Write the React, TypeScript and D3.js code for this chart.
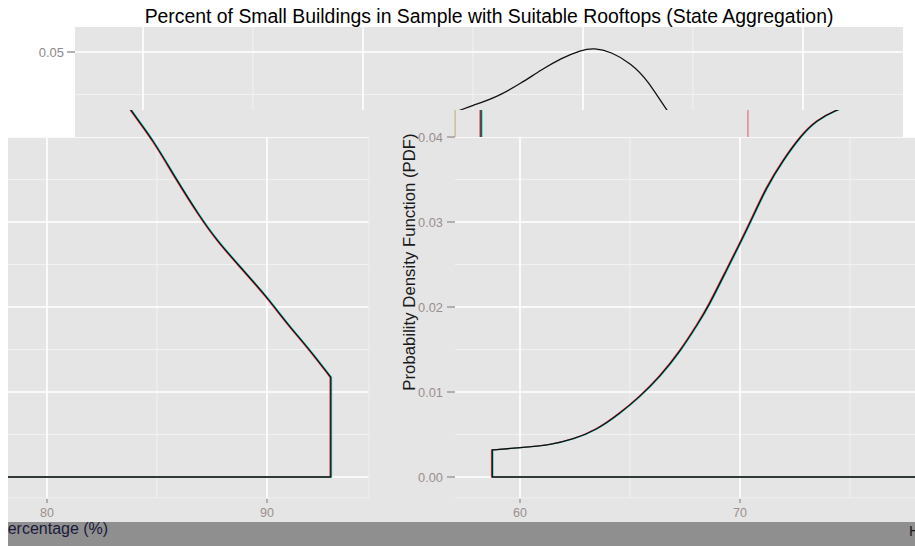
import React from 'react';
import * as d3 from 'd3';

const titleText = 'Percent of Small Buildings in Sample with Suitable Rooftops (State Aggregation)';
const yTitle = 'Probability Density Function (PDF)';
const xTitle = 'Percentage (%)';

// density estimate
const pct = [58.74, 60.0, 61.36, 62.42, 63.49, 64.55, 65.45, 66.36, 67.27, 68.1, 68.56, 69.39, 70.0, 70.45, 71.21, 71.97, 72.73, 73.49, 74.4, 75.06, 76.12, 77.18, 78.09, 79.0, 79.91, 80.51, 81.27, 82.18, 82.94, 83.8, 84.83, 85.89, 86.95, 87.71, 88.77, 89.99, 90.9, 91.95, 92.9];
const density = [0.00318, 0.00345, 0.00376, 0.00443, 0.00553, 0.00749, 0.00945, 0.0118, 0.01474, 0.01808, 0.02004, 0.02435, 0.02749, 0.02985, 0.03415, 0.0373, 0.04004, 0.042, 0.0432, 0.04376, 0.04474, 0.04632, 0.04788, 0.04925, 0.05024, 0.05048, 0.05004, 0.04867, 0.04671, 0.0431, 0.03965, 0.03494, 0.03062, 0.02788, 0.02474, 0.02121, 0.01808, 0.01494, 0.01173];

const yMajor = [0, 0.01, 0.02, 0.03, 0.04, 0.05];
const yMinor = [0.005, 0.015, 0.025, 0.035, 0.045];
const xMajor = [50, 60, 70, 80, 90, 100];
const xMinor = [55, 65, 75, 85, 95];
const topYLabels = [0.05];
const rightYLabels = [0, 0.01, 0.02, 0.03, 0.04];
const leftXLabels = [80, 90];
const rightXLabels = [60, 70];
const stripMarks = [57.05, 58.23, 70.36];

const W = 915, H = 546;
const BG = '#e5e5e5';
const FONT = 'Liberation Sans, Arial, sans-serif';

const y = d3.scaleLinear().domain([0, 0.05]).range([477, 52]);
const xTop = d3.scaleLinear().domain([60, 90]).range([143, 803]);
const xLeft = d3.scaleLinear().domain([80, 90]).range([47, 267]);
const xRight = d3.scaleLinear().domain([60, 70]).range([520, 740]);

const pts: [number, number][] = pct.map((p, i) => [p, density[i]]);

function densityPath(x: d3.ScaleLinear<number, number>) {
  const line = d3.line<[number, number]>().x(d => x(d[0])).y(d => y(d[1])).curve(d3.curveBasis);
  const body = line(pts) || '';
  const x0 = x(pct[0]);
  const xn = x(pct[pct.length - 1]);
  return `M${x0},${y(0)}` + body.replace(/^M/, 'L') + `L${xn},${y(0)}Z`;
}

type Rect = { x: number; y: number; w: number; h: number };

function Grid({ x, r }: { x: d3.ScaleLinear<number, number>; r: Rect }) {
  return (
    <g>
      {yMinor.map(v => (
        <line key={'ym' + v} x1={r.x} x2={r.x + r.w} y1={y(v)} y2={y(v)} stroke="#f2f2f2" strokeWidth={1} />
      ))}
      {xMinor.map(v => (
        <line key={'xm' + v} x1={x(v)} x2={x(v)} y1={r.y} y2={r.y + r.h} stroke="#f2f2f2" strokeWidth={1} />
      ))}
      {yMajor.map(v => (
        <line key={'yM' + v} x1={r.x} x2={r.x + r.w} y1={y(v)} y2={y(v)} stroke="#ffffff" strokeWidth={1.6} />
      ))}
      {xMajor.map(v => (
        <line key={'xM' + v} x1={x(v)} x2={x(v)} y1={r.y} y2={r.y + r.h} stroke="#ffffff" strokeWidth={1.6} />
      ))}
    </g>
  );
}

function Curve({ x, fringe }: { x: d3.ScaleLinear<number, number>; fringe: boolean }) {
  const d = densityPath(x);
  return (
    <g fill="none">
      {fringe && <path d={d} stroke="#e02828" strokeWidth={1.2} transform="translate(-0.8,0)" opacity={0.85} />}
      {fringe && <path d={d} stroke="#20d8d8" strokeWidth={1.2} transform="translate(0.8,0)" opacity={0.85} />}
      <path d={d} stroke="#111" strokeWidth={1.3} />
    </g>
  );
}

const topR: Rect = { x: 75, y: 27, w: 828, h: 83 };
const stripR: Rect = { x: 75, y: 110, w: 828, h: 27 };
const leftR: Rect = { x: 8, y: 137, w: 361, h: 361 };
const rightR: Rect = { x: 455, y: 137, w: 460, h: 361 };

function clipRect(id: string, r: Rect) {
  return (
    <clipPath id={id}>
      <rect x={r.x} y={r.y} width={r.w} height={r.h} />
    </clipPath>
  );
}

export default function App() {
  const tickCol = '#9c8e8e';
  return (
    <svg width={W} height={H} style={{ position: 'fixed', left: 0, top: 0, background: '#fff' }} fontFamily={FONT}>
      <defs>
        {clipRect('cTop', topR)}
        {clipRect('cStrip', stripR)}
        {clipRect('cLeft', leftR)}
        {clipRect('cRight', rightR)}
        {clipRect('cBand', { x: 8, y: 500, w: 907, h: 46 })}
      </defs>
      <rect x={0} y={0} width={W} height={H} fill="#fff" />

      {/* title */}
      <text x={489} y={23} textAnchor="middle" fontSize={19.4} fill="#000">{titleText}</text>

      {/* top panel */}
      <rect x={topR.x} y={topR.y} width={topR.w} height={topR.h} fill={BG} />
      <g clipPath="url(#cTop)">
        <Grid x={xTop} r={topR} />
        <Curve x={xTop} fringe={false} />
      </g>
      {topYLabels.map(v => (
        <g key={'tl' + v}>
          <text x={64} y={y(v) + 4.5} textAnchor="end" fontSize={13} fill="#8a8a8a">{v.toFixed(2)}</text>
          <line x1={67} x2={75} y1={y(v)} y2={y(v)} stroke="#8a8a8a" strokeWidth={1.3} />
        </g>
      ))}

      {/* strip */}
      <rect x={stripR.x} y={stripR.y} width={stripR.w} height={stripR.h} fill={BG} />
      <g clipPath="url(#cStrip)">
        <Curve x={xLeft} fringe={true} />
        <Curve x={xRight} fringe={true} />
        <line x1={xRight(stripMarks[0])} x2={xRight(stripMarks[0])} y1={110} y2={137} stroke="#c8a868" strokeWidth={1} />
        <line x1={xRight(stripMarks[1]) - 1} x2={xRight(stripMarks[1]) - 1} y1={110} y2={137} stroke="#d02020" strokeWidth={1} />
        <line x1={xRight(stripMarks[1]) + 1} x2={xRight(stripMarks[1]) + 1} y1={110} y2={137} stroke="#20d0d0" strokeWidth={1} />
        <line x1={xRight(stripMarks[1])} x2={xRight(stripMarks[1])} y1={110} y2={137} stroke="#111" strokeWidth={1.2} />
        <line x1={xRight(stripMarks[2])} x2={xRight(stripMarks[2])} y1={110} y2={137} stroke="#e07890" strokeWidth={1.3} />
      </g>

      {/* lower area */}
      <rect x={8} y={137} width={907} height={385} fill={BG} />

      {/* left panel */}
      <g clipPath="url(#cLeft)">
        <Grid x={xLeft} r={leftR} />
        <Curve x={xLeft} fringe={true} />
      </g>
      <line x1={369} x2={369} y1={137} y2={498} stroke="#eeeeee" strokeWidth={1} />
      <line x1={8} x2={369} y1={498} y2={498} stroke="#eeeeee" strokeWidth={1} />
      {leftXLabels.map(v => (
        <g key={'lx' + v}>
          <line x1={xLeft(v)} x2={xLeft(v)} y1={499} y2={503} stroke={tickCol} strokeWidth={1.3} />
          <text x={xLeft(v)} y={517} textAnchor="middle" fontSize={12.5} fill={tickCol}>{v}</text>
        </g>
      ))}

      {/* right panel */}
      <g clipPath="url(#cRight)">
        <Grid x={xRight} r={rightR} />
        <Curve x={xRight} fringe={true} />
      </g>
      <line x1={455} x2={915} y1={498} y2={498} stroke="#eeeeee" strokeWidth={1} />
      {rightYLabels.map(v => (
        <g key={'ry' + v}>
          <text x={443} y={y(v) + 4.5} textAnchor="end" fontSize={12.8} fill={tickCol}>{v.toFixed(2)}</text>
          <line x1={447} x2={455} y1={y(v)} y2={y(v)} stroke={tickCol} strokeWidth={1.3} />
        </g>
      ))}
      {rightXLabels.map(v => (
        <g key={'rx' + v}>
          <line x1={xRight(v)} x2={xRight(v)} y1={499} y2={503} stroke={tickCol} strokeWidth={1.3} />
          <text x={xRight(v)} y={517} textAnchor="middle" fontSize={12.5} fill={tickCol}>{v}</text>
        </g>
      ))}
      <text transform="translate(415,262) rotate(-90)" textAnchor="middle" fontSize={16.8} fill="#1a1a1a">{yTitle}</text>

      {/* bottom band */}
      <rect x={8} y={522} width={907} height={24} fill="#8f8f8f" />
      <g clipPath="url(#cBand)">
        <text x={-3} y={534} fontSize={16} fill="#1a1a3a">{xTitle}</text>
        <text x={909} y={536} fontSize={15} fill="#1a1a1a">H</text>
      </g>
    </svg>
  );
}
